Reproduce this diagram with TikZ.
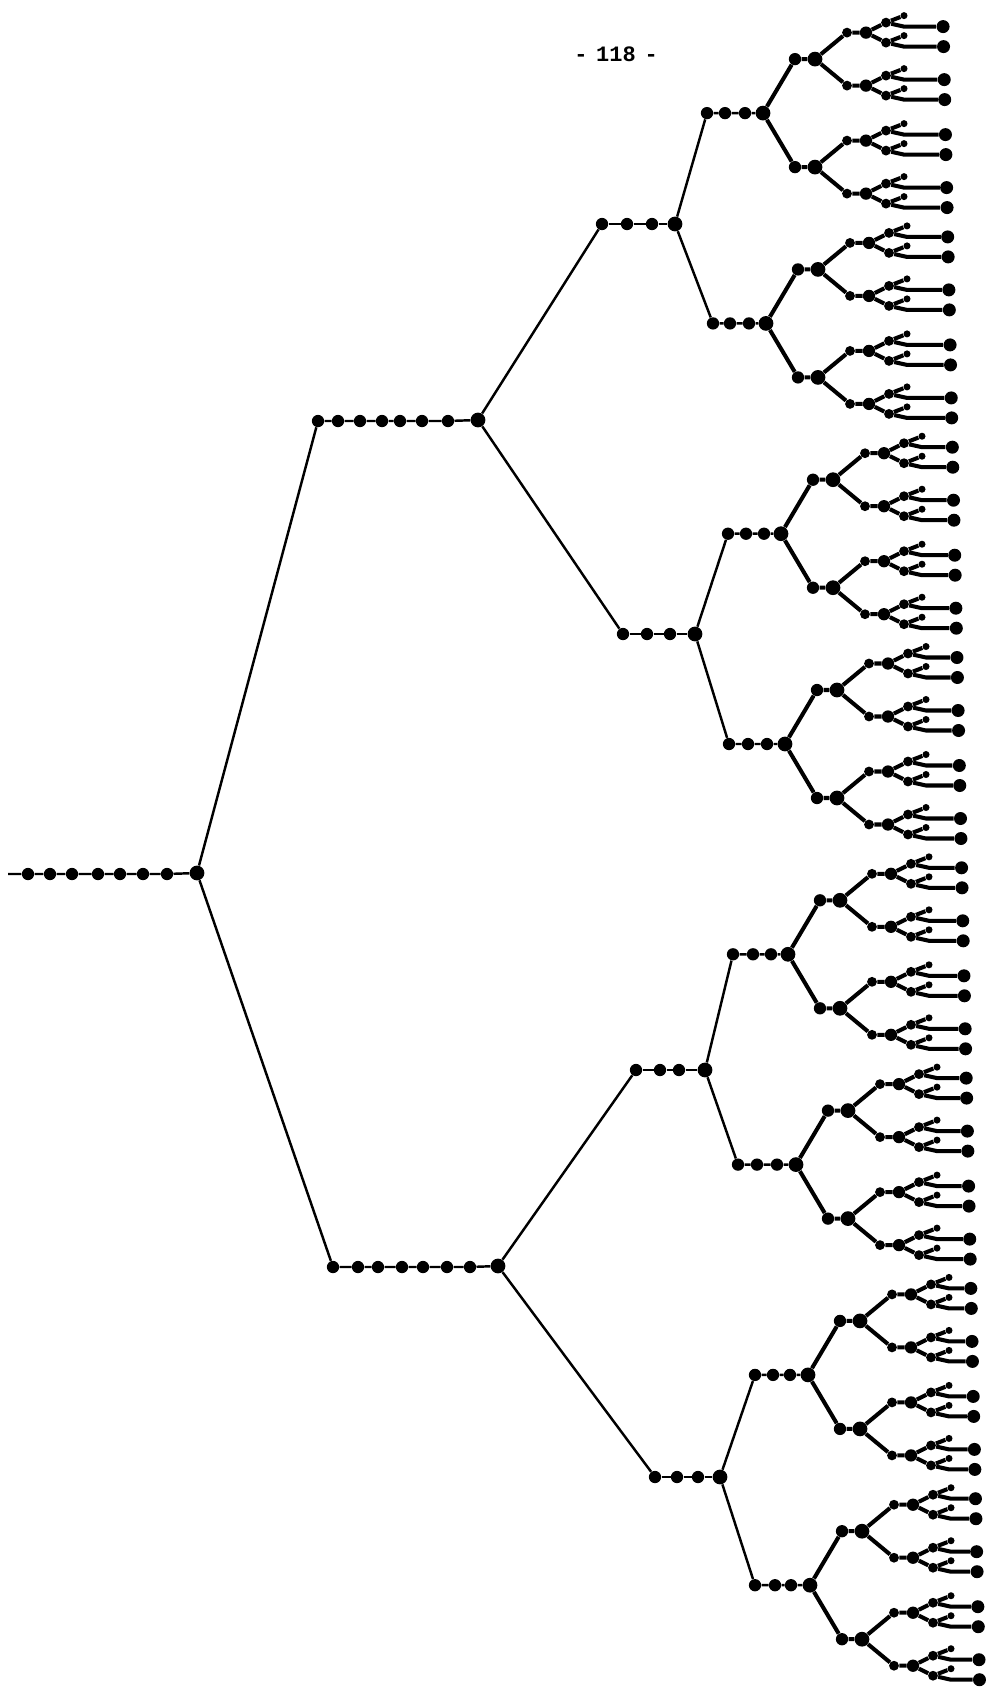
\documentclass[tikz,border=0pt]{standalone}
\usepackage{fontspec}
\newfontfamily\pagefont{Liberation Mono}

\begin{document}
\begin{tikzpicture}[
            x=0.02cm, y=-0.02cm,
            bead/.style={circle, fill, inner sep=0pt, minimum size=7pt},
            knot/.style={circle, fill, inner sep=0pt, minimum size=8.4pt},
            nub/.style={circle, fill, inner sep=0pt, minimum size=5.6pt},
            tip/.style={circle, fill, inner sep=0pt, minimum size=4pt},
            berry/.style={circle, fill, inner sep=0pt, minimum size=7.4pt},
            limb/.style={line width=1.4pt},
            twig/.style={line width=2.3pt}]

        \useasboundingbox (0,0) rectangle (996,1691);

        \node (page) at (616,54) {\pagefont\bfseries\fontsize{12.5}{14}\selectfont -\hspace{-0.2em} 118 \hspace{-0.2em}-};

        \coordinate (r0) at (8,874);
        \foreach \n/\x in {1/28,2/50,3/72,4/98,5/120,6/143,7/167}
            \node[bead] (r\n) at (\x,874) {};
        \node[knot] (r8) at (197,873) {};
        \draw[limb] (r0) -- (r1) -- (r2) -- (r3) -- (r4) -- (r5) -- (r6) -- (r7) -- (r8);

        \foreach \n/\x in {1/318,2/338,3/360,4/382,5/400,6/422,7/448}
            \node[bead] (a\n) at (\x,421) {};
        \node[knot] (a8) at (478,420) {};
        \draw[limb] (a1) -- (a2) -- (a3) -- (a4) -- (a5) -- (a6) -- (a7) -- (a8);

        \foreach \n/\x in {1/333,2/358,3/378,4/402,5/423,6/447,7/470}
            \node[bead] (b\n) at (\x,1267) {};
        \node[knot] (b8) at (498,1266) {};
        \draw[limb] (b1) -- (b2) -- (b3) -- (b4) -- (b5) -- (b6) -- (b7) -- (b8);

        \draw[limb] (r8) -- (a1);
        \draw[limb] (r8) -- (b1);

        \foreach \m/\y/\xa/\xb/\xc/\xd in {0/224/602/627/652/675, 1/634/623/647/670/695,
                                         2/1070/636/660/679/705, 3/1477/655/677/698/720} {
            \node[bead] (p\m-1) at (\xa,\y) {};
            \node[bead] (p\m-2) at (\xb,\y) {};
            \node[bead] (p\m-3) at (\xc,\y) {};
            \node[knot] (p\m-4) at (\xd,\y) {};
            \draw[limb] (p\m-1) -- (p\m-2) -- (p\m-3) -- (p\m-4);
        }
        \draw[limb] (a8) -- (p0-1);
        \draw[limb] (a8) -- (p1-1);
        \draw[limb] (b8) -- (p2-1);
        \draw[limb] (b8) -- (p3-1);

        \foreach \g/\xa/\xb/\xc/\xd in {0/707/725/745/763, 1/713/730/749/766, 2/728/746/764/781,
                                      3/729/748/767/785, 4/733/753/771/788, 5/738/757/777/796,
                                      6/755/773/790/808, 7/755/775/791/810} {
            \pgfmathsetmacro\yb{26.6+210.3*\g}
            \pgfmathsetmacro\yc{\yb+86.5}
            \pgfmathtruncatemacro\m{int(\g/2)}
            \node[bead] (c\g-1) at (\xa,\yc) {};
            \node[bead] (c\g-2) at (\xb,\yc) {};
            \node[bead] (c\g-3) at (\xc,\yc) {};
            \node[knot] (c\g-4) at (\xd,\yc) {};
            \draw[limb] (p\m-4) -- (c\g-1) -- (c\g-2) -- (c\g-3) -- (c\g-4);
            \foreach \i in {0,1} {
                \pgfmathsetmacro\yd{\yb+108*\i+32.5}
                \node[bead] (d\g-\i) at (\xd+32,\yd) {};
                \node[knot] (dd\g-\i) at (\xd+52,\yd) {};
                \draw[twig] (c\g-4) -- (d\g-\i) -- (dd\g-\i);
                \foreach \j in {0,1} {
                    \pgfmathsetmacro\ye{\yb+108*\i+53*\j+6}
                    \node[nub] (e\g-\i-\j) at (\xd+84,\ye) {};
                    \node[bead] (ee\g-\i-\j) at (\xd+103,\ye) {};
                    \draw[twig] (dd\g-\i) -- (e\g-\i-\j) -- (ee\g-\i-\j);
                    \foreach \k in {0,1} {
                        \pgfmathsetmacro\yf{\yb+108*\i+53*\j+20*\k-4}
                        \pgfmathsetmacro\xl{943+0.022*(\yf-19)}
                        \node[nub] (f\g-\i-\j-\k) at (\xd+123,\yf) {};
                        \node[tip] (t\g-\i-\j-\k) at (\xd+141,\yf-7) {};
                        \coordinate (s\g-\i-\j-\k) at (\xd+141,\yf+4);
                        \node[berry] (l\g-\i-\j-\k) at (\xl,\yf+4) {};
                        \draw[twig] (ee\g-\i-\j) -- (f\g-\i-\j-\k) -- (t\g-\i-\j-\k);
                        \draw[twig] (f\g-\i-\j-\k) -- (s\g-\i-\j-\k) -- (l\g-\i-\j-\k);
                    }
                }
            }
        }

    \end{tikzpicture}
\end{document}
